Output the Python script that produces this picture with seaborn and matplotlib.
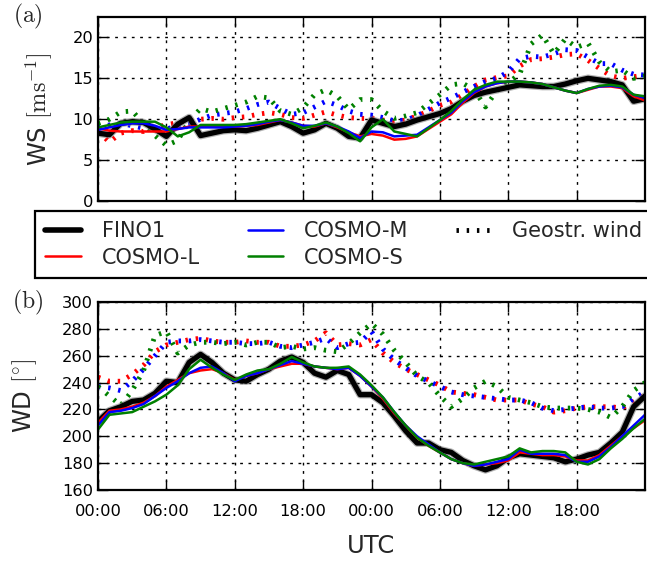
import matplotlib
matplotlib.use("Agg")
import matplotlib.pyplot as plt
from matplotlib.lines import Line2D
import seaborn as sns

# Time axis: hours since 00:00 UTC of the first day
hours = list(range(49))
tick_hours = [0, 6, 12, 18, 24, 30, 36, 42]
tick_labels = ["00:00", "06:00", "12:00", "18:00", "00:00", "06:00", "12:00", "18:00"]

# Wind speed [m/s]
ws_fino1 = [8.3, 8.1, 9.5, 9.7, 9.6, 8.8, 7.9, 9.4, 10.2, 8.0, 8.3, 8.6, 8.7, 8.6, 8.9, 9.3,
            9.7, 9.1, 8.3, 8.7, 9.5, 8.9, 7.9, 7.7, 9.9, 9.5, 9.1, 9.4, 9.9, 10.3, 10.7, 11.3,
            12.2, 12.9, 13.3, 13.6, 13.9, 14.2, 14.1, 14.0, 14.0, 14.3, 14.7, 15.0, 14.8, 14.6,
            14.2, 12.2, 12.5]
ws_cosmo_l = [8.9, 8.6, 8.5, 8.5, 8.5, 8.5, 8.5, 8.8, 9.1, 9.1, 9.1, 9.1, 9.1, 9.2, 9.3, 9.6,
              9.9, 9.6, 9.2, 9.1, 9.5, 9.0, 8.4, 7.9, 8.2, 8.0, 7.5, 7.6, 7.9, 8.8, 9.7, 10.6,
              12.0, 13.2, 14.0, 14.4, 14.6, 14.6, 14.5, 14.3, 13.9, 13.5, 13.2, 13.6, 14.0, 14.0,
              13.8, 12.8, 12.3]
ws_cosmo_m = [8.7, 9.0, 9.3, 9.5, 9.5, 9.2, 8.7, 8.8, 9.0, 9.0, 9.0, 9.0, 9.1, 9.2, 9.4, 9.7,
              9.9, 9.6, 9.2, 9.2, 9.5, 9.1, 8.5, 7.7, 8.5, 8.4, 7.9, 8.0, 8.1, 9.0, 9.9, 10.8,
              12.2, 13.3, 14.0, 14.4, 14.6, 14.6, 14.5, 14.3, 13.9, 13.5, 13.2, 13.7, 14.0, 14.1,
              13.9, 13.0, 12.6]
ws_cosmo_s = [9.0, 9.3, 9.6, 9.7, 9.7, 9.7, 9.0, 7.9, 8.4, 9.3, 9.3, 9.3, 9.3, 9.4, 9.6, 9.8,
              10.0, 9.5, 8.9, 9.2, 9.6, 9.1, 8.3, 7.3, 9.0, 10.0, 8.5, 8.2, 7.9, 8.9, 9.9, 11.0,
              12.4, 13.6, 14.2, 14.6, 14.6, 14.6, 14.5, 14.3, 13.9, 13.5, 13.2, 13.7, 14.1, 14.2,
              14.0, 13.0, 12.8]
ws_geo_l = [8.5, 7.2, 8.3, 8.6, 8.5, 9.0, 9.3, 9.6, 9.8, 10.0, 10.1, 10.0, 10.2, 10.3, 10.6, 10.8,
            10.6, 10.2, 10.1, 10.5, 10.9, 10.5, 10.2, 10.1, 10.1, 9.9, 9.7, 9.9, 10.4, 11.0, 11.7,
            12.1, 13.0, 14.0, 14.8, 15.1, 15.3, 16.5, 17.3, 17.4, 17.6, 17.9, 18.0, 17.2, 16.2,
            15.3, 15.0, 15.2, 15.4]
ws_geo_m = [9.0, 9.3, 9.5, 9.2, 8.9, 8.7, 8.8, 9.2, 9.4, 10.0, 10.5, 10.7, 10.9, 11.3, 11.8, 12.1,
            11.3, 10.6, 10.8, 11.5, 12.2, 11.7, 11.0, 10.6, 10.5, 10.2, 9.8, 9.9, 10.4, 11.2, 12.0,
            12.6, 13.3, 14.0, 14.6, 15.0, 15.8, 17.4, 17.7, 17.6, 18.0, 18.5, 18.4, 17.6, 16.8,
            16.8, 16.0, 15.5, 15.4]
ws_geo_s = [9.5, 10.0, 10.9, 11.0, 9.5, 8.0, 6.8, 7.4, 9.8, 11.3, 10.9, 11.3, 11.7, 12.1, 12.8,
            12.6, 11.0, 10.6, 11.4, 13.0, 13.6, 12.8, 11.2, 12.4, 12.4, 11.0, 10.1, 10.4, 10.8,
            11.9, 13.0, 14.2, 14.4, 13.6, 11.5, 13.5, 14.5, 15.5, 19.2, 20.3, 18.0, 19.8, 18.8,
            19.3, 17.0, 15.8, 16.0, 15.0, 15.3]

# Wind direction [deg]
wd_fino1 = [211, 219, 222, 226, 227, 232, 241, 240, 255, 261, 255, 247, 242, 241, 246, 250,
            256, 259, 255, 247, 244, 249, 246, 231, 231, 225, 215, 204, 195, 195, 190, 188,
            182, 178, 175, 178, 184, 187, 186, 185, 184, 181, 183, 186, 188, 195, 203, 222, 230]
wd_cosmo_l = [210, 219, 220, 222, 225, 230, 237, 242, 247, 249, 250, 247, 242, 245, 247, 250,
              252, 254, 254, 252, 251, 250, 251, 245, 237, 228, 217, 208, 199, 193, 188, 183,
              180, 178, 179, 180, 182, 188, 187, 186, 186, 185, 182, 182, 186, 193, 200, 206, 212]
wd_cosmo_m = [208, 218, 219, 221, 224, 230, 236, 241, 247, 251, 252, 247, 241, 245, 247, 250,
              253, 256, 254, 252, 251, 250, 251, 245, 237, 229, 218, 208, 200, 194, 188, 183,
              180, 178, 179, 181, 183, 190, 187, 187, 187, 186, 181, 181, 185, 192, 200, 208, 216]
wd_cosmo_s = [205, 216, 217, 218, 222, 226, 231, 238, 250, 257, 251, 246, 242, 246, 249, 250,
              254, 259, 255, 252, 251, 251, 252, 246, 238, 229, 218, 208, 199, 193, 188, 183,
              180, 179, 181, 183, 185, 191, 188, 189, 189, 188, 181, 179, 183, 191, 198, 206, 213]
wd_geo_l = [244, 241, 241, 246, 253, 263, 268, 270, 272, 273, 271, 270, 270, 271, 270, 270,
            267, 267, 268, 271, 277, 268, 269, 268, 272, 262, 255, 250, 246, 242, 238, 233,
            232, 231, 229, 227, 227, 227, 224, 222, 218, 219, 221, 222, 222, 222, 221, 226, 231]
wd_geo_m = [237, 236, 234, 241, 250, 260, 270, 271, 271, 272, 271, 270, 270, 269, 269, 270,
            267, 266, 268, 270, 273, 266, 269, 270, 278, 265, 257, 251, 245, 241, 237, 233,
            231, 230, 229, 228, 227, 227, 225, 221, 219, 220, 221, 222, 221, 221, 222, 228, 233]
wd_geo_s = [237, 230, 223, 234, 249, 275, 278, 262, 268, 270, 270, 269, 270, 268, 270, 270,
            266, 267, 265, 266, 264, 263, 269, 277, 284, 276, 264, 255, 245, 240, 230, 222,
            228, 236, 241, 237, 229, 227, 225, 222, 221, 221, 221, 220, 218, 214, 222, 234, 240]

sns.set_style("white")
plt.rcParams.update({
    "font.family": ["DejaVu Sans"],
    "mathtext.fontset": "cm",
    "axes.linewidth": 1.6,
    "axes.edgecolor": "black",
    "xtick.direction": "in",
    "ytick.direction": "in",
    "xtick.top": True,
    "xtick.bottom": True,
    "ytick.left": True,
    "ytick.right": True,
    "xtick.major.size": 7,
    "ytick.major.size": 7,
    "xtick.major.width": 1.0,
    "ytick.major.width": 1.0,
    "xtick.color": "black",
    "ytick.color": "black",
    "xtick.labelsize": 11.7,
    "ytick.labelsize": 11.7,
})

C_L, C_M, C_S = "#ff0000", "#0000ff", "#008000"
# short thick dots for the geostrophic wind
DOT = (0, (0.5, 1.6))
DOT_LW = 3.5

fig = plt.figure(figsize=(6.47, 5.63), dpi=100)
ax1 = fig.add_axes([98 / 647, 1 - 201 / 563, 547 / 647, 184 / 563])
ax2 = fig.add_axes([98 / 647, 1 - 490 / 563, 547 / 647, 188 / 563])


def draw_panel(ax, obs, cl, cm, cs, gl, gm, gs):
    for g, c in ((gl, C_L), (gm, C_M), (gs, C_S)):
        line = sns.lineplot(x=hours, y=g, ax=ax, color=c, lw=DOT_LW, linestyle=DOT).lines[-1]
        line.set_dash_capstyle("butt")
    sns.lineplot(x=hours, y=obs, ax=ax, color="0.5", lw=5.5, alpha=0.6)
    sns.lineplot(x=hours, y=obs, ax=ax, color="black", lw=3.8)
    for m, c in ((cl, C_L), (cm, C_M), (cs, C_S)):
        sns.lineplot(x=hours, y=m, ax=ax, color=c, lw=1.8)
    ax.set_xlim(0, 48)
    ax.set_xticks(tick_hours)
    ax.grid(True, color="black", linestyle=(0, (2, 4)), linewidth=1.0)
    ax.set_axisbelow(True)
    for s in ax.spines.values():
        s.set_linewidth(1.6)


draw_panel(ax1, ws_fino1, ws_cosmo_l, ws_cosmo_m, ws_cosmo_s, ws_geo_l, ws_geo_m, ws_geo_s)
ax1.set_ylim(0, 22.5)
ax1.set_yticks([0, 5, 10, 15, 20])
ax1.set_xticklabels([])
ax1.set_ylabel(r"WS $[\mathrm{ms}^{-1}]$", fontsize=17.5)
ax1.yaxis.set_label_coords(-0.078, 0.5)

draw_panel(ax2, wd_fino1, wd_cosmo_l, wd_cosmo_m, wd_cosmo_s, wd_geo_l, wd_geo_m, wd_geo_s)
ax2.set_ylim(160, 300)
ax2.set_yticks([160, 180, 200, 220, 240, 260, 280, 300])
ax2.set_xticklabels(tick_labels)
ax2.set_ylabel(r"WD $[^{\circ}]$", fontsize=17.5)
ax2.yaxis.set_label_coords(-0.107, 0.5)
ax2.set_xlabel("UTC", fontsize=17.5, labelpad=11)
ax2.tick_params(axis="x", pad=10)

fig.text(28 / 647, 1 - 16 / 563, r"$\mathrm{(a)}$", fontsize=17, ha="center", va="center")
fig.text(28 / 647, 1 - 302 / 563, r"$\mathrm{(b)}$", fontsize=17, ha="center", va="center")

handles = [
    Line2D([], [], color="black", lw=4),
    Line2D([], [], color=C_L, lw=1.8),
    Line2D([], [], color=C_M, lw=1.8),
    Line2D([], [], color=C_S, lw=1.8),
    Line2D([], [], color="black", lw=DOT_LW, linestyle=DOT, dash_capstyle="butt"),
]
labels = ["FINO1", "COSMO-L", "COSMO-M", "COSMO-S", "Geostr. wind"]
leg = fig.legend(handles, labels, loc="upper left", bbox_to_anchor=(35 / 647, 1 - 211 / 563),
                 ncol=3, fontsize=15, frameon=True, fancybox=False, edgecolor="black",
                 framealpha=1, borderaxespad=0, handlelength=1.7, handletextpad=1.0,
                 columnspacing=2.3, labelspacing=0.3, borderpad=0.5)
leg.get_frame().set_linewidth(1.6)

fig.savefig("out.png", dpi=100)
